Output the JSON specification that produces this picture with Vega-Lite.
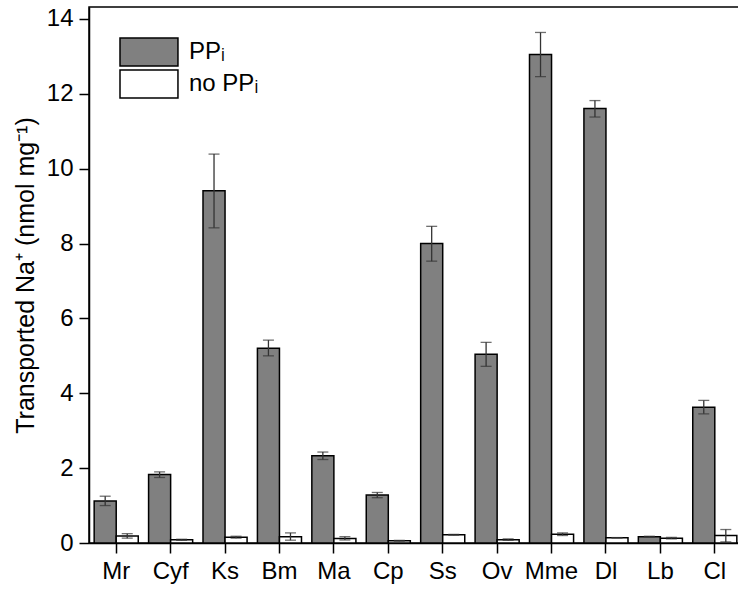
{
  "$schema": "https://vega.github.io/schema/vega-lite/v6.json",
  "width": 653,
  "height": 536,
  "padding": {"left": 13, "top": 6, "right": 0, "bottom": 5},
  "autosize": {"type": "pad"},
  "config": {
    "font": "Liberation Sans",
    "view": {"stroke": "black", "strokeWidth": 1.5},
    "axis": {
      "domainColor": "black", "domainWidth": 1.5,
      "tickColor": "black", "tickWidth": 1.5, "tickSize": 10,
      "labelFontSize": 24, "labelColor": "black", "labelFont": "Liberation Sans",
      "titleFontSize": 25, "titleFontWeight": "normal", "titleColor": "black", "titleFont": "Liberation Sans",
      "grid": false
    }
  },
  "data": {
    "values": [
      {"species": "Mr", "cond": "PPᵢ", "value": 1.12, "lo": 1.0, "hi": 1.25},
      {"species": "Mr", "cond": "no PPᵢ", "value": 0.19, "lo": 0.13, "hi": 0.25},
      {"species": "Cyf", "cond": "PPᵢ", "value": 1.83, "lo": 1.75, "hi": 1.9},
      {"species": "Cyf", "cond": "no PPᵢ", "value": 0.09, "lo": 0.07, "hi": 0.1},
      {"species": "Ks", "cond": "PPᵢ", "value": 9.41, "lo": 8.42, "hi": 10.39},
      {"species": "Ks", "cond": "no PPᵢ", "value": 0.155, "lo": 0.13, "hi": 0.18},
      {"species": "Bm", "cond": "PPᵢ", "value": 5.2, "lo": 5.0, "hi": 5.42},
      {"species": "Bm", "cond": "no PPᵢ", "value": 0.165, "lo": 0.075, "hi": 0.27},
      {"species": "Ma", "cond": "PPᵢ", "value": 2.33, "lo": 2.23, "hi": 2.43},
      {"species": "Ma", "cond": "no PPᵢ", "value": 0.12, "lo": 0.08, "hi": 0.17},
      {"species": "Cp", "cond": "PPᵢ", "value": 1.28, "lo": 1.21, "hi": 1.35},
      {"species": "Cp", "cond": "no PPᵢ", "value": 0.06, "lo": 0.05, "hi": 0.07},
      {"species": "Ss", "cond": "PPᵢ", "value": 8.0, "lo": 7.53, "hi": 8.46},
      {"species": "Ss", "cond": "no PPᵢ", "value": 0.22, "lo": 0.21, "hi": 0.23},
      {"species": "Ov", "cond": "PPᵢ", "value": 5.04, "lo": 4.72, "hi": 5.36},
      {"species": "Ov", "cond": "no PPᵢ", "value": 0.09, "lo": 0.07, "hi": 0.11},
      {"species": "Mme", "cond": "PPᵢ", "value": 13.05, "lo": 12.46, "hi": 13.64},
      {"species": "Mme", "cond": "no PPᵢ", "value": 0.235, "lo": 0.2, "hi": 0.27},
      {"species": "Dl", "cond": "PPᵢ", "value": 11.61, "lo": 11.38, "hi": 11.82},
      {"species": "Dl", "cond": "no PPᵢ", "value": 0.14, "lo": 0.135, "hi": 0.145},
      {"species": "Lb", "cond": "PPᵢ", "value": 0.17, "lo": 0.16, "hi": 0.18},
      {"species": "Lb", "cond": "no PPᵢ", "value": 0.13, "lo": 0.11, "hi": 0.15},
      {"species": "Cl", "cond": "PPᵢ", "value": 3.63, "lo": 3.45, "hi": 3.81},
      {"species": "Cl", "cond": "no PPᵢ", "value": 0.2, "lo": 0.03, "hi": 0.36}
    ]
  },
  "encoding": {
    "x": {
      "field": "species", "type": "nominal", "sort": null,
      "scale": {"paddingInner": 0.19, "paddingOuter": 0.095},
      "axis": {"title": null, "labelAngle": 0, "labelPadding": 6}
    },
    "xOffset": {
      "field": "cond", "type": "nominal",
      "scale": {"domain": ["PPᵢ", "no PPᵢ"], "paddingInner": 0, "paddingOuter": 0}
    }
  },
  "layer": [
    {
      "mark": {"type": "bar", "stroke": "black", "strokeWidth": 1.5},
      "encoding": {
        "y": {
          "field": "value", "type": "quantitative",
          "scale": {"domain": [0, 14.32], "nice": false, "zero": false},
          "axis": {"values": [0, 2, 4, 6, 8, 10, 12, 14], "title": "Transported Na⁺ (nmol mg⁻¹)", "titlePadding": 8, "labelPadding": 6}
        },
        "fill": {
          "field": "cond", "type": "nominal",
          "scale": {"domain": ["PPᵢ", "no PPᵢ"], "range": ["#808080", "#ffffff"]},
          "legend": {
            "title": null, "orient": "top-left", "offset": 30,
            "symbolType": "M-1,-1L3.14,-1L3.14,1L-1,1Z",
            "symbolSize": 784, "symbolStrokeColor": "black", "symbolStrokeWidth": 1.5,
            "symbolOpacity": 1,
            "labelFontSize": 24, "labelColor": "black", "labelFont": "Liberation Sans",
            "labelOffset": 40, "rowPadding": -2
          }
        }
      }
    },
    {
      "mark": {"type": "rule", "color": "#333333", "strokeWidth": 1.3},
      "encoding": {
        "y": {"field": "lo", "type": "quantitative"},
        "y2": {"field": "hi"}
      }
    },
    {
      "mark": {"type": "tick", "color": "#333333", "size": 11, "thickness": 1.3},
      "encoding": {"y": {"field": "hi", "type": "quantitative"}}
    },
    {
      "mark": {"type": "tick", "color": "#333333", "size": 11, "thickness": 1.3},
      "encoding": {"y": {"field": "lo", "type": "quantitative"}}
    }
  ]
}
